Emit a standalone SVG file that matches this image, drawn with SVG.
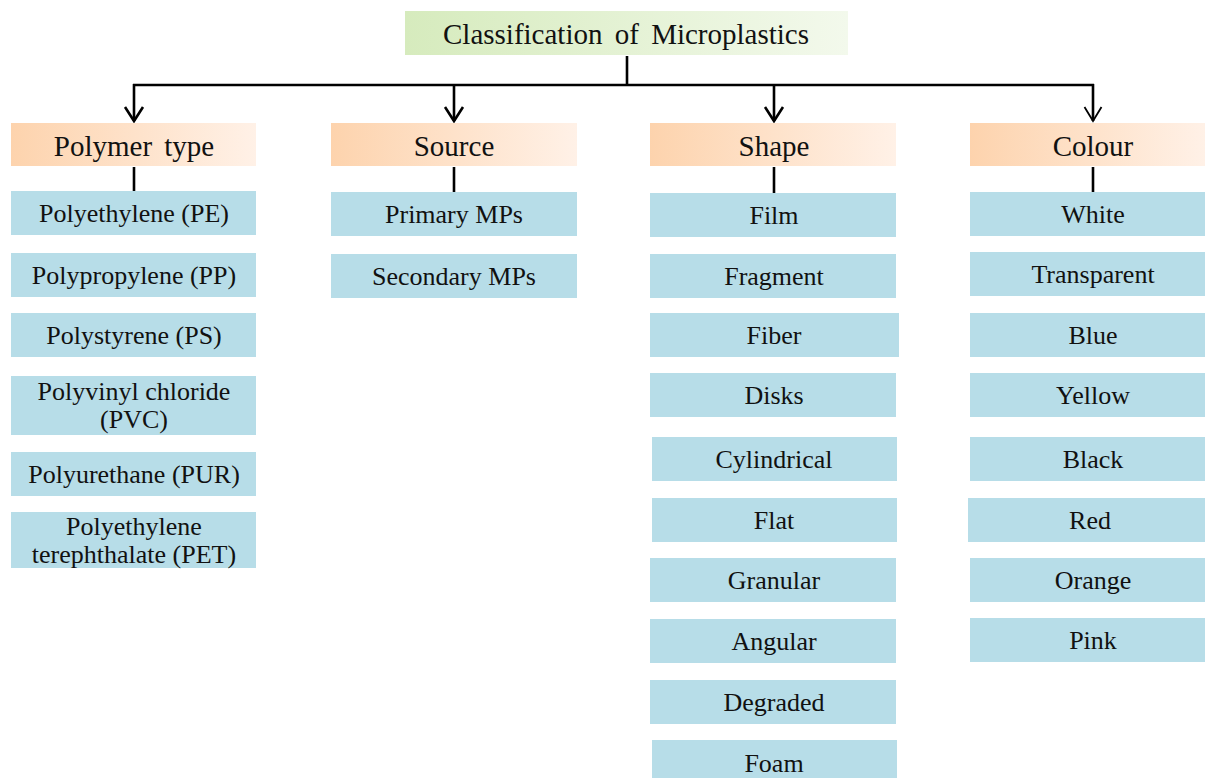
<svg xmlns="http://www.w3.org/2000/svg" width="1205" height="778" viewBox="0 0 1205 778">
<defs>
<linearGradient id="gTitle" x1="0" y1="0" x2="1" y2="0"><stop offset="0" stop-color="#d6ebbd"/><stop offset="1" stop-color="#f3f9ec"/></linearGradient>
<linearGradient id="gCat" x1="0" y1="0" x2="1" y2="0"><stop offset="0" stop-color="#fdd3ad"/><stop offset="1" stop-color="#fff1e7"/></linearGradient>
<marker id="arr" viewBox="0 0 22 20" refX="11" refY="17" markerWidth="22" markerHeight="20" markerUnits="userSpaceOnUse" orient="0"><path d="M2,3 L11,17 L20,3" fill="none" stroke="#000" stroke-width="2.6"/></marker>
<marker id="arr2" viewBox="0 0 22 20" refX="11" refY="17" markerWidth="22" markerHeight="20" markerUnits="userSpaceOnUse" orient="0"><path d="M2.5,3 L11,17 L19.5,3" fill="none" stroke="#000" stroke-width="1.8"/></marker>
<style>
text{font-family:'Liberation Serif','Times New Roman',serif;fill:#111;text-anchor:middle;dominant-baseline:central}
.it{font-size:26px}
.cat{font-size:29px;word-spacing:5px}
.item{fill:#b7dde8}
.c{stroke:#000;stroke-width:2.6;fill:none}
</style>
</defs>
<g id="title"><rect x="405" y="11" width="443" height="44" fill="url(#gTitle)"/><text class="cat" x="626" y="34">Classification of Microplastics</text></g>
<g id="connectors">
<line class="c" x1="627" y1="56" x2="627" y2="85"/>
<line class="c" x1="133" y1="85" x2="1094" y2="85"/>
<line class="c" x1="134" y1="84" x2="134" y2="121" marker-end="url(#arr)"/>
<line class="c" x1="454" y1="84" x2="454" y2="121" marker-end="url(#arr)"/>
<line class="c" x1="774" y1="84" x2="774" y2="121" marker-end="url(#arr)"/>
<line class="c" x1="1093" y1="84" x2="1093" y2="121" stroke-width="1.8" marker-end="url(#arr2)"/>
<line class="c" x1="134" y1="167" x2="134" y2="191"/>
<line class="c" x1="454" y1="167" x2="454" y2="192"/>
<line class="c" x1="774" y1="167" x2="774" y2="193"/>
<line class="c" x1="1093" y1="167" x2="1093" y2="192"/>
</g>
<g id="cat-polymer"><rect x="11" y="123" width="245" height="43" fill="url(#gCat)"/><text class="cat" x="134" y="146">Polymer type</text></g>
<g id="cat-source"><rect x="331" y="123" width="246" height="43" fill="url(#gCat)"/><text class="cat" x="454" y="146">Source</text></g>
<g id="cat-shape"><rect x="650" y="123" width="246" height="43" fill="url(#gCat)"/><text class="cat" x="774" y="146">Shape</text></g>
<g id="cat-colour"><rect x="970" y="123" width="235" height="43" fill="url(#gCat)"/><text class="cat" x="1093" y="146">Colour</text></g>

<g id="pe"><rect class="item" x="11" y="191" width="245" height="44"/><text class="it" x="134" y="213">Polyethylene (PE)</text></g>
<g id="pp"><rect class="item" x="11" y="253" width="245" height="44"/><text class="it" x="134" y="275">Polypropylene (PP)</text></g>
<g id="ps"><rect class="item" x="11" y="313" width="245" height="44"/><text class="it" x="134" y="335">Polystyrene (PS)</text></g>
<g id="pvc"><rect class="item" x="11" y="376" width="245" height="59"/><text class="it" x="134" y="391">Polyvinyl chloride</text><text class="it" x="134" y="419">(PVC)</text></g>
<g id="pur"><rect class="item" x="11" y="452" width="245" height="44"/><text class="it" x="134" y="474">Polyurethane (PUR)</text></g>
<g id="pet"><rect class="item" x="11" y="512" width="245" height="56"/><text class="it" x="134" y="526">Polyethylene</text><text class="it" x="134" y="554">terephthalate (PET)</text></g>

<g id="primary"><rect class="item" x="331" y="192" width="246" height="44"/><text class="it" x="454" y="214">Primary MPs</text></g>
<g id="secondary"><rect class="item" x="331" y="254" width="246" height="44"/><text class="it" x="454" y="276">Secondary MPs</text></g>

<g id="film"><rect class="item" x="650" y="193" width="246" height="44"/><text class="it" x="774" y="215">Film</text></g>
<g id="fragment"><rect class="item" x="650" y="254" width="246" height="44"/><text class="it" x="774" y="276">Fragment</text></g>
<g id="fiber"><rect class="item" x="650" y="313" width="249" height="44"/><text class="it" x="774" y="335">Fiber</text></g>
<g id="disks"><rect class="item" x="650" y="373" width="246" height="44"/><text class="it" x="774" y="395">Disks</text></g>
<g id="cylindrical"><rect class="item" x="652" y="437" width="245" height="44"/><text class="it" x="774" y="459">Cylindrical</text></g>
<g id="flat"><rect class="item" x="652" y="498" width="245" height="44"/><text class="it" x="774" y="520">Flat</text></g>
<g id="granular"><rect class="item" x="650" y="558" width="246" height="44"/><text class="it" x="774" y="580">Granular</text></g>
<g id="angular"><rect class="item" x="650" y="619" width="246" height="44"/><text class="it" x="774" y="641">Angular</text></g>
<g id="degraded"><rect class="item" x="650" y="680" width="246" height="44"/><text class="it" x="774" y="702">Degraded</text></g>
<g id="foam"><rect class="item" x="652" y="740" width="245" height="38"/><text class="it" x="774" y="763">Foam</text></g>

<g id="white"><rect class="item" x="970" y="192" width="235" height="44"/><text class="it" x="1093" y="214">White</text></g>
<g id="transparent"><rect class="item" x="970" y="252" width="235" height="44"/><text class="it" x="1093" y="274">Transparent</text></g>
<g id="blue"><rect class="item" x="970" y="313" width="235" height="44"/><text class="it" x="1093" y="335">Blue</text></g>
<g id="yellow"><rect class="item" x="970" y="373" width="235" height="44"/><text class="it" x="1093" y="395">Yellow</text></g>
<g id="black"><rect class="item" x="970" y="437" width="235" height="44"/><text class="it" x="1093" y="459">Black</text></g>
<g id="red"><rect class="item" x="968" y="498" width="237" height="44"/><text class="it" x="1090" y="520">Red</text></g>
<g id="orange"><rect class="item" x="970" y="558" width="235" height="44"/><text class="it" x="1093" y="580">Orange</text></g>
<g id="pink"><rect class="item" x="970" y="618" width="235" height="44"/><text class="it" x="1093" y="640">Pink</text></g>
</svg>
